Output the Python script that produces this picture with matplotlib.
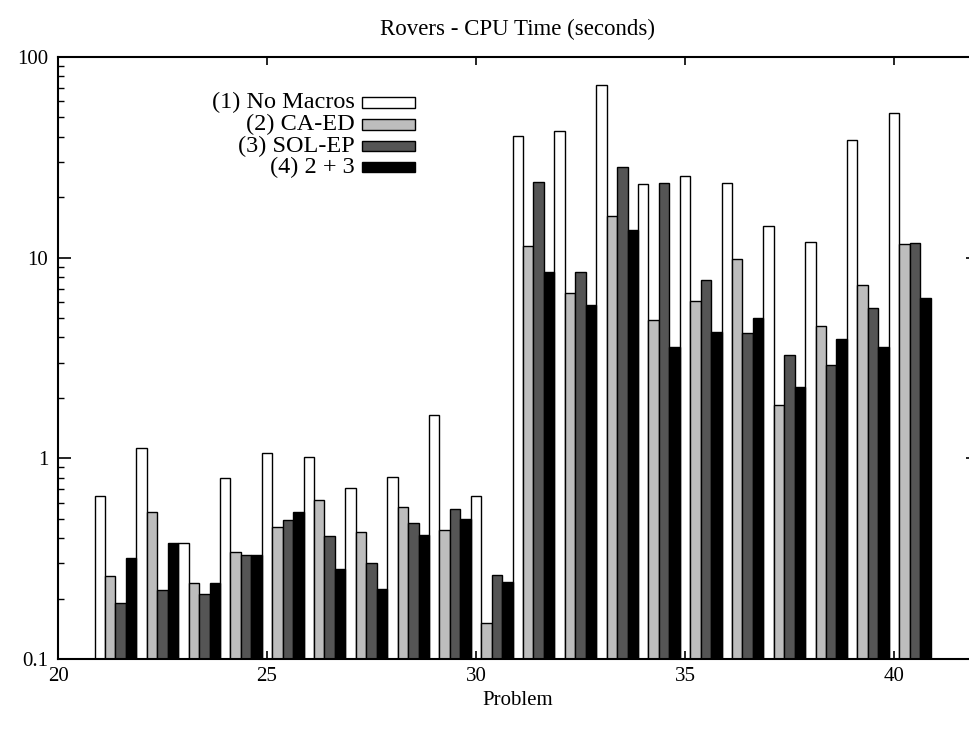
import numpy as np
import matplotlib.pyplot as plt
from matplotlib.patches import Rectangle
from matplotlib.ticker import LogLocator, FixedLocator, FixedFormatter, NullFormatter

plt.rcParams['font.family'] = ['Liberation Serif', 'DejaVu Serif']

problems = np.arange(21, 41)
no_macros = [0.65, 1.12, 0.38, 0.80, 1.06, 1.02, 0.71, 0.81, 1.65, 0.65,
             40.2, 42.7, 72.2, 23.2, 25.4, 23.4, 14.3, 12.0, 38.4, 52.8]
ca_ed = [0.26, 0.54, 0.24, 0.34, 0.455, 0.62, 0.43, 0.57, 0.44, 0.152,
         11.4, 6.66, 16.1, 4.91, 6.08, 9.89, 1.84, 4.55, 7.34, 11.7]
sol_ep = [0.19, 0.22, 0.21, 0.33, 0.495, 0.41, 0.30, 0.476, 0.557, 0.263,
          23.8, 8.51, 28.3, 23.5, 7.71, 4.21, 3.26, 2.91, 5.63, 11.8]
both = [0.32, 0.38, 0.24, 0.33, 0.54, 0.28, 0.222, 0.413, 0.497, 0.242,
        8.48, 5.78, 13.8, 3.57, 4.24, 5.0, 2.26, 3.95, 3.6, 6.29]

labels = ['(1) No Macros', '(2) CA-ED', '(3) SOL-EP', '(4) 2 + 3']
series = [no_macros, ca_ed, sol_ep, both]
colors = ['white', '#bdbdbd', '#555555', 'black']

fig = plt.figure(figsize=(9.7, 7.29), dpi=100)
ax = fig.add_axes([0.0598, 0.096, 0.948, 0.826])

base = 0.1
w = 0.25
for i, (vals, c) in enumerate(zip(series, colors)):
    ax.bar(problems + i * w, np.array(vals) - base, width=w, bottom=base,
           color=c, edgecolor='black', linewidth=1.0)

ax.set_yscale('log')
ax.set_ylim(0.1, 100)
ax.set_xlim(20, 42)

ax.xaxis.set_major_locator(FixedLocator([20, 25, 30, 35, 40]))
ax.yaxis.set_major_locator(FixedLocator([0.1, 1, 10, 100]))
ax.yaxis.set_major_formatter(FixedFormatter(['0.1', '1', '10', '100']))
ax.yaxis.set_minor_locator(LogLocator(base=10, subs=np.arange(2, 10)))
ax.yaxis.set_minor_formatter(NullFormatter())

ax.tick_params(axis='both', which='both', direction='in', top=True, right=True,
               labelsize=15)
ax.tick_params(axis='y', which='major', length=9, width=1.2, pad=7)
ax.tick_params(axis='y', which='minor', length=4.5, width=1.0)
ax.tick_params(axis='x', which='major', length=6, width=1.2, pad=6)

for s in ax.spines.values():
    s.set_linewidth(1.5)

ax.set_title('Rovers - CPU Time (seconds)', fontsize=16.5, pad=16)
ax.set_xlabel('Problem', fontsize=15, labelpad=3)

# key, drawn gnuplot-style: right-aligned text with box samples
ys = [0.924, 0.888, 0.852, 0.817]
for lab, c, y in zip(labels, colors, ys):
    ax.text(0.323, y, lab, transform=ax.transAxes, ha='right', va='center',
            fontsize=17.5)
    ax.add_patch(Rectangle((0.331, y - 0.009), 0.057, 0.018,
                           transform=ax.transAxes, facecolor=c,
                           edgecolor='black', linewidth=1.0))

fig.savefig('out.png', dpi=100)
